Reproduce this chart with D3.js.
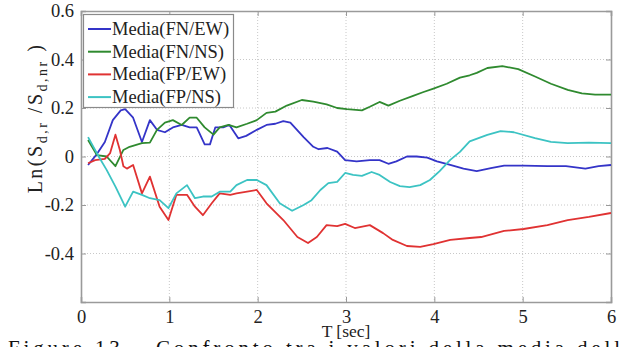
<!DOCTYPE html>
<html><head><meta charset="utf-8">
<script src="https://cdn.jsdelivr.net/npm/d3@7"></script>
<style>body{margin:0;background:#fff}svg{display:block}text{font-family:"Liberation Serif","Times New Roman",serif}</style>
</head><body>
<svg id="c" width="624" height="347"></svg>
<script>
const seriesNames = ["Media(FN/EW)","Media(FN/NS)","Media(FP/EW)","Media(FP/NS)"];
const xTicks = [0,1,2,3,4,5,6];
const yTicks = [-0.6,-0.4,-0.2,0,0.2,0.4,0.6];
const yTickLabels = ["","-0.4","-0.2","0","0.2","0.4","0.6"];

const fnEwT = [0.08,0.18,0.27,0.36,0.45,0.5,0.59,0.69,0.78,0.86,0.95,1.04,1.14,1.23,1.31,1.40,1.46,1.52,1.61,1.68,1.78,1.87,1.99,2.1,2.2,2.29,2.37,2.52,2.63,2.69,2.79,2.9,2.99,3.12,3.27,3.38,3.48,3.57,3.69,3.80,3.92,4.03,4.18,4.33,4.48,4.64,4.79,5.01,5.28,5.49,5.71,5.86,6.0];
const fnEwV = [-0.035,0.01,0.06,0.15,0.19,0.195,0.16,0.06,0.15,0.11,0.10,0.12,0.13,0.12,0.12,0.05,0.05,0.12,0.12,0.13,0.075,0.085,0.11,0.13,0.135,0.146,0.14,0.08,0.04,0.03,0.035,0.02,-0.015,-0.02,-0.015,-0.015,-0.03,-0.02,0,0.0,-0.005,-0.02,-0.035,-0.05,-0.06,-0.048,-0.038,-0.038,-0.04,-0.04,-0.05,-0.04,-0.035];

const fnNsT = [0.08,0.18,0.29,0.39,0.48,0.55,0.69,0.78,0.86,0.95,1.04,1.14,1.23,1.31,1.40,1.50,1.57,1.67,1.76,1.88,1.99,2.10,2.2,2.33,2.5,2.63,2.78,2.9,3.01,3.18,3.27,3.38,3.48,3.61,3.76,3.87,3.99,4.14,4.29,4.40,4.48,4.60,4.77,4.95,5.14,5.32,5.51,5.67,5.82,6.0];
const fnNsV = [0.068,0.006,0.0,-0.04,0.027,0.04,0.055,0.057,0.11,0.14,0.15,0.13,0.16,0.16,0.12,0.09,0.12,0.13,0.12,0.135,0.15,0.18,0.185,0.21,0.233,0.226,0.215,0.2,0.195,0.19,0.205,0.225,0.21,0.23,0.25,0.265,0.28,0.3,0.325,0.335,0.345,0.365,0.373,0.36,0.33,0.30,0.275,0.26,0.255,0.255];

const fpEwT = [0.08,0.16,0.27,0.33,0.39,0.44,0.48,0.52,0.59,0.69,0.78,0.89,0.99,1.08,1.20,1.29,1.38,1.48,1.57,1.69,1.76,1.88,1.99,2.1,2.29,2.45,2.57,2.67,2.78,2.9,2.99,3.10,3.27,3.42,3.53,3.69,3.84,3.99,4.18,4.40,4.53,4.79,5.01,5.28,5.51,5.75,6.0];
const fpEwV = [-0.028,-0.015,-0.01,0.014,0.09,0.027,-0.04,-0.05,-0.035,-0.152,-0.083,-0.207,-0.262,-0.158,-0.158,-0.207,-0.242,-0.193,-0.152,-0.158,-0.152,-0.145,-0.138,-0.193,-0.262,-0.332,-0.357,-0.332,-0.283,-0.287,-0.278,-0.295,-0.283,-0.316,-0.344,-0.369,-0.373,-0.361,-0.344,-0.336,-0.332,-0.307,-0.299,-0.283,-0.262,-0.249,-0.233];

const fpNsT = [0.08,0.2,0.29,0.39,0.50,0.59,0.69,0.78,0.89,0.99,1.08,1.20,1.29,1.38,1.48,1.57,1.69,1.76,1.88,1.99,2.10,2.25,2.39,2.52,2.61,2.71,2.80,2.9,2.99,3.08,3.18,3.29,3.38,3.50,3.61,3.72,3.84,3.95,4.06,4.18,4.29,4.40,4.60,4.75,4.90,5.14,5.32,5.51,5.75,6.0];
const fpNsV = [0.08,0.0,-0.055,-0.124,-0.207,-0.145,-0.158,-0.172,-0.18,-0.213,-0.152,-0.118,-0.172,-0.165,-0.165,-0.145,-0.145,-0.118,-0.097,-0.097,-0.118,-0.193,-0.224,-0.2,-0.18,-0.138,-0.11,-0.105,-0.068,-0.076,-0.08,-0.064,-0.076,-0.105,-0.122,-0.126,-0.118,-0.097,-0.06,-0.014,0.019,0.062,0.089,0.105,0.10,0.076,0.06,0.055,0.057,0.055];

const colors = ["#3434c8","#2f8a2f","#e03232","#3cc3c3"];
const seriesT = [fnEwT,fnNsT,fpEwT,fpNsT];
const seriesV = [fnEwV,fnNsV,fpEwV,fpNsV];

const svg = d3.select("#c");
const L=81,R=611,T=11,B=302;
const x = d3.scaleLinear().domain([0,6]).range([L,R]);
const y = d3.scaleLinear().domain([-0.6,0.6]).range([B,T]);

// grid
const g = svg.append("g");
g.selectAll(".gx").data(xTicks.slice(1,-1)).join("line")
  .attr("x1",d=>x(d)).attr("x2",d=>x(d)).attr("y1",T).attr("y2",B)
  .attr("stroke","#c8c8c8").attr("stroke-width",1).attr("stroke-dasharray","1,2");
g.selectAll(".gy").data(yTicks.slice(1,-1)).join("line")
  .attr("y1",d=>y(d)).attr("y2",d=>y(d)).attr("x1",L).attr("x2",R)
  .attr("stroke","#c8c8c8").attr("stroke-width",1).attr("stroke-dasharray","1,2");

// axes via d3 axes
const axB = svg.append("g").attr("transform",`translate(0,${B})`)
  .call(d3.axisBottom(x).tickValues(xTicks).tickSize(-5).tickPadding(8).tickFormat(d3.format("d")));
const axT = svg.append("g").attr("transform",`translate(0,${T})`)
  .call(d3.axisTop(x).tickValues(xTicks).tickSize(-5).tickFormat(""));
const axLf = svg.append("g").attr("transform",`translate(${L},0)`)
  .call(d3.axisLeft(y).tickValues(yTicks).tickSize(-5).tickPadding(7).tickFormat((d,i)=>yTickLabels[i]));
const axRt = svg.append("g").attr("transform",`translate(${R},0)`)
  .call(d3.axisRight(y).tickValues(yTicks).tickSize(-5).tickFormat(""));
[axB,axT,axLf,axRt].forEach(a=>{
  a.select(".domain").attr("stroke","#9a9a9a").attr("stroke-width",1.6);
  a.selectAll(".tick line").attr("stroke","#9a9a9a");
  a.selectAll("text").attr("fill","#222").style("font-size","18.5px").style("font-family","Liberation Serif, serif");
});

// lines
const line = d3.line().x(d=>x(d[0])).y(d=>y(d[1]));
seriesT.forEach((ts,i)=>{
  const pts = ts.map((t,j)=>[t,seriesV[i][j]]);
  svg.append("path").datum(pts).attr("d",line).attr("fill","none")
    .attr("stroke",colors[i]).attr("stroke-width",1.8).attr("stroke-linejoin","round");
});

// legend
const lg = svg.append("g");
lg.append("rect").attr("x",83.5).attr("y",14.5).attr("width",150).attr("height",93)
  .attr("fill","#fff").attr("stroke","#8a8a8a").attr("stroke-width",1.2);
seriesNames.forEach((n,i)=>{
  const yy = 29 + i*22.7;
  lg.append("line").attr("x1",88).attr("x2",111).attr("y1",yy).attr("y2",yy)
    .attr("stroke",colors[i]).attr("stroke-width",2);
  lg.append("text").attr("x",112).attr("y",yy+6).text(n)
    .style("font-size","18.5px").attr("fill","#222");
});

// axis labels
svg.append("text").attr("x",346).attr("y",337).attr("text-anchor","middle")
  .style("font-size","17.5px").attr("fill","#222").text("T [sec]");
const yl = svg.append("text").attr("transform","translate(42,118) rotate(-90)")
  .attr("text-anchor","middle").style("font-size","20px").style("letter-spacing","2.5px").attr("fill","#222");
yl.append("tspan").text("Ln(S");
yl.append("tspan").attr("dy",5).style("font-size","14px").text("d,r");
yl.append("tspan").attr("dy",-5).text(" /S");
yl.append("tspan").attr("dy",5).style("font-size","14px").text("d,nr");
yl.append("tspan").attr("dy",-5).text(" )");

// caption (cut off at bottom, as in the reference)
svg.append("text").attr("x",8).attr("y",355).style("font-size","21px").attr("fill","#111")
  .attr("textLength",612).attr("lengthAdjust","spacing")
  .text("Figure 13 – Confronto tra i valori della media dell");
</script>
</body></html>
